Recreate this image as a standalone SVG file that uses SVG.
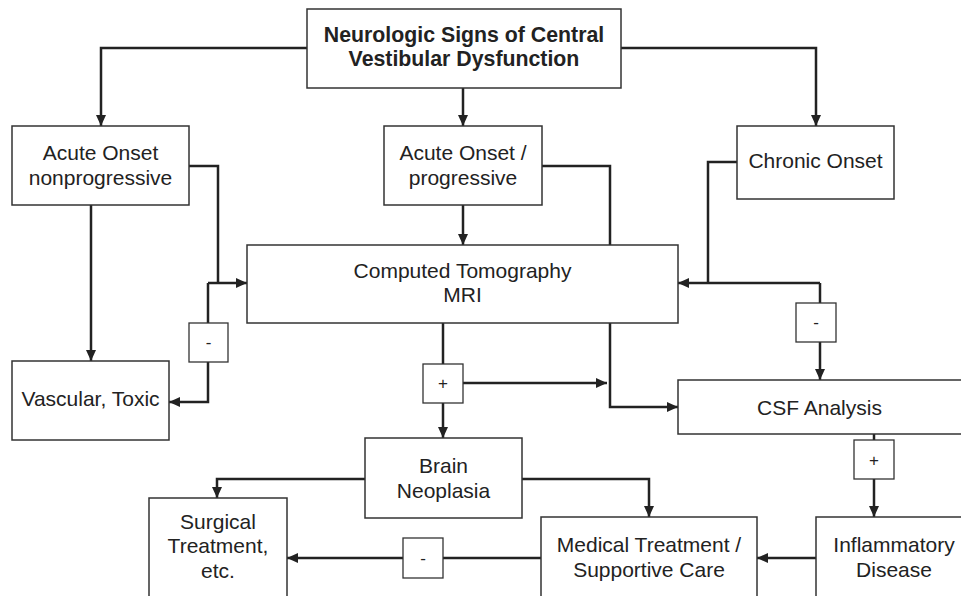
<svg xmlns="http://www.w3.org/2000/svg" width="961" height="596" viewBox="0 0 961 596">
  <style>
    .box { fill: #fff; stroke: #333; stroke-width: 1.5; }
    .sign { fill: #fff; stroke: #333; stroke-width: 1.3; }
    .wire { fill: none; stroke: #222; stroke-width: 2.5; }
    .t { font-family: "Liberation Sans", Arial, sans-serif; font-size: 21px; fill: #222; text-anchor: middle; }
    .tb { font-family: "Liberation Sans", Arial, sans-serif; font-size: 21.3px; font-weight: bold; fill: #222; text-anchor: middle; }
    .s { font-family: "Liberation Sans", Arial, sans-serif; font-size: 17px; fill: #222; text-anchor: middle; }
  </style>
  <defs>
    <marker id="arrow" markerUnits="userSpaceOnUse" markerWidth="12" markerHeight="12" refX="11" refY="6" orient="auto">
      <path d="M0,1 L11,6 L0,11 Z" fill="#222"/>
    </marker>
  </defs>
  <rect width="961" height="596" fill="#fff"/>

  <!-- connectors -->
  <g id="connectors">
    <path class="wire" d="M307,48 H101 V126" marker-end="url(#arrow)"/>
    <path class="wire" d="M463,88 V126" marker-end="url(#arrow)"/>
    <path class="wire" d="M621,48 H816 V126" marker-end="url(#arrow)"/>

    <path class="wire" d="M189,166 H218 V283"/>
    <path class="wire" d="M208,283 H247" marker-end="url(#arrow)"/>
    <path class="wire" d="M208,283 V323"/>
    <path class="wire" d="M208,362 V402 H169" marker-end="url(#arrow)"/>
    <path class="wire" d="M91,205 V361" marker-end="url(#arrow)"/>

    <path class="wire" d="M463,205 V245" marker-end="url(#arrow)"/>
    <path class="wire" d="M542,166 H610 V245"/>

    <path class="wire" d="M737,162 H708 V283"/>
    <path class="wire" d="M820,283 H678" marker-end="url(#arrow)"/>
    <path class="wire" d="M820,283 V303"/>
    <path class="wire" d="M820,342 V380" marker-end="url(#arrow)"/>

    <path class="wire" d="M443,323 V364"/>
    <path class="wire" d="M443,403 V438" marker-end="url(#arrow)"/>
    <path class="wire" d="M463,383 H607" marker-end="url(#arrow)"/>
    <path class="wire" d="M610,323 V407 H678" marker-end="url(#arrow)"/>

    <path class="wire" d="M365,479 H217 V498" marker-end="url(#arrow)"/>
    <path class="wire" d="M522,479 H649 V517" marker-end="url(#arrow)"/>

    <path class="wire" d="M874,434 V440"/>
    <path class="wire" d="M874,479 V517" marker-end="url(#arrow)"/>

    <path class="wire" d="M816,558 H757" marker-end="url(#arrow)"/>
    <path class="wire" d="M541,558 H443"/>
    <path class="wire" d="M403,558 H287" marker-end="url(#arrow)"/>
  </g>

  <!-- nodes -->
  <g id="central-signs">
    <rect class="box" x="307" y="9" width="314" height="79"/>
    <text class="tb" x="464" y="42">Neurologic Signs of Central</text>
    <text class="tb" x="464" y="66">Vestibular Dysfunction</text>
  </g>
  <g id="acute-nonprogressive">
    <rect class="box" x="12" y="126" width="177" height="79"/>
    <text class="t" x="100.5" y="160">Acute Onset</text>
    <text class="t" x="100.5" y="185">nonprogressive</text>
  </g>
  <g id="acute-progressive">
    <rect class="box" x="384" y="126" width="158" height="79"/>
    <text class="t" x="463" y="160">Acute Onset /</text>
    <text class="t" x="463" y="185">progressive</text>
  </g>
  <g id="chronic-onset">
    <rect class="box" x="737" y="126" width="157" height="73"/>
    <text class="t" x="815.5" y="168">Chronic Onset</text>
  </g>
  <g id="imaging">
    <rect class="box" x="247" y="245" width="431" height="78"/>
    <text class="t" x="462.5" y="278">Computed Tomography</text>
    <text class="t" x="462.5" y="302">MRI</text>
  </g>
  <g id="vascular-toxic">
    <rect class="box" x="12" y="361" width="157" height="79"/>
    <text class="t" x="90.5" y="406">Vascular, Toxic</text>
  </g>
  <g id="csf-analysis">
    <rect class="box" x="678" y="380" width="300" height="54"/>
    <text class="t" x="819.5" y="415">CSF Analysis</text>
  </g>
  <g id="brain-neoplasia">
    <rect class="box" x="365" y="438" width="157" height="80"/>
    <text class="t" x="443.5" y="473">Brain</text>
    <text class="t" x="443.5" y="498">Neoplasia</text>
  </g>
  <g id="surgical-treatment">
    <rect class="box" x="149" y="498" width="138" height="110"/>
    <text class="t" x="218" y="529">Surgical</text>
    <text class="t" x="218" y="553">Treatment,</text>
    <text class="t" x="218" y="578">etc.</text>
  </g>
  <g id="medical-treatment">
    <rect class="box" x="541" y="517" width="216" height="90"/>
    <text class="t" x="649" y="552">Medical Treatment /</text>
    <text class="t" x="649" y="577">Supportive Care</text>
  </g>
  <g id="inflammatory-disease">
    <rect class="box" x="816" y="517" width="160" height="90"/>
    <text class="t" x="894" y="552">Inflammatory</text>
    <text class="t" x="894" y="577">Disease</text>
  </g>

  <!-- result markers on the connectors -->
  <g id="sign-vascular">
    <rect class="sign" x="189" y="323" width="39" height="39"/>
    <text class="s" x="208.5" y="348">-</text>
  </g>
  <g id="sign-neoplasia">
    <rect class="sign" x="423" y="364" width="40" height="39"/>
    <text class="s" x="443" y="389">+</text>
  </g>
  <g id="sign-csf">
    <rect class="sign" x="796" y="303" width="40" height="39"/>
    <text class="s" x="816" y="328">-</text>
  </g>
  <g id="sign-inflammatory">
    <rect class="sign" x="854" y="440" width="40" height="39"/>
    <text class="s" x="874" y="466">+</text>
  </g>
  <g id="sign-surgical">
    <rect class="sign" x="403" y="538" width="40" height="40"/>
    <text class="s" x="423" y="564">-</text>
  </g>
</svg>
